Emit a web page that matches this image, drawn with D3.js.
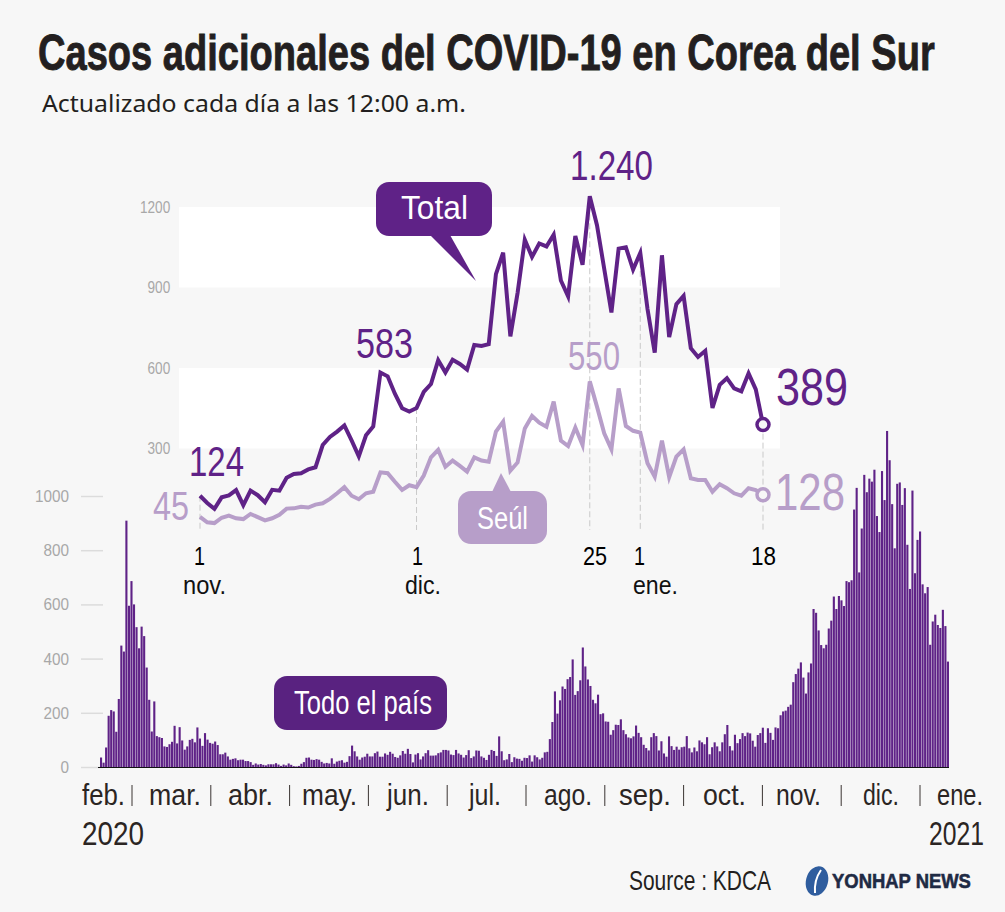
<!DOCTYPE html>
<html>
<head>
<meta charset="utf-8">
<script src="https://cdn.jsdelivr.net/npm/d3@7"></script>
<style>
html, body { margin: 0; padding: 0; background: #f7f7f7; }
svg { display: block; }
text { font-family: "Liberation Sans", Arial, sans-serif; }
</style>
</head>
<body>
<script>
// Nov 1 - Jan 18, nationwide
var totalCases = [124, 97, 75, 118, 125, 145, 89, 143, 126, 100, 146, 143, 191, 205, 208, 222, 230, 313, 343, 363,
    386, 330, 271, 349, 382, 583, 569, 504, 450, 438,
    451, 511, 540, 629, 583, 631, 615, 594, 686, 682, 689, 950, 1030, 718, 880, 1078, 1014, 1064, 1053, 1097,
    926, 867, 1092, 985, 1240, 1132, 970, 807, 1045, 1050, 967,
    1029, 820, 657, 1020, 715, 838, 869, 674, 641, 664, 451, 537, 562, 524, 513, 580, 520, 389];

// Nov 1 - Jan 18, Seoul
var seoulCases = [45, 25, 22, 42, 50, 40, 37, 56, 44, 32, 40, 53, 76, 77, 83, 80, 91, 96, 112, 133,
    156, 124, 111, 133, 139, 211, 208, 176, 146, 163,
    156, 199, 267, 295, 232, 255, 235, 214, 267, 255, 251, 363, 400, 217, 248, 375, 421, 396, 381, 475,
    329, 309, 378, 313, 550, 456, 357, 297, 524, 384, 366,
    359, 245, 195, 329, 193, 270, 297, 189, 183, 183, 139, 167, 152, 133, 124, 152, 145, 128];

// Feb 19 - Oct 31
var earlierCases = [35, 16, 72, 189, 210, 205, 130, 251, 448, 426,
    909, 595, 686, 600, 516, 438, 518, 483, 367, 248, 131, 242, 114, 110, 107, 76, 74, 84, 93, 152,
    87, 147, 98, 64, 76, 100, 104, 91, 146, 105, 78, 125,
    101, 89, 86, 94, 81, 47, 47, 53, 39, 27, 30, 32, 25, 27, 27, 22, 22, 18, 8, 13, 9, 11, 8, 6, 10, 10, 10, 14, 9, 4,
    9, 6, 13, 8, 3, 2, 4, 12, 18, 34, 35, 27, 26, 29, 27, 19, 13, 15, 13, 32, 12, 20, 23, 25, 16, 19, 40, 79, 58, 39, 27,
    35, 38, 49, 39, 39, 51, 57, 38, 38, 50, 45, 56, 49, 37, 34, 43, 59, 49, 67, 48, 17, 46, 51, 28, 39, 51, 62, 42, 42, 43,
    51, 54, 63, 63, 61, 46, 44, 63, 50, 45, 35, 44, 62, 33, 39, 61, 60, 39, 34, 26, 45, 63, 59, 41, 113, 58, 25, 28, 48, 18, 36,
    31, 30, 23, 34, 33, 43, 20, 43, 36, 28, 34, 54, 56, 103, 166, 279, 197, 246, 297, 288, 324, 332, 397, 266, 280, 320, 441, 371, 323, 299, 248,
    235, 267, 195, 198, 168, 167, 119, 136, 156, 155, 176, 136, 121, 109, 106, 113, 153, 126, 110, 82, 70, 61, 110, 125, 114, 61, 95, 50, 38, 113,
    77, 63, 75, 64, 73, 75, 114, 69, 54, 72, 58, 98, 91, 84, 110, 47, 73, 91, 76, 58, 91, 121, 155, 77, 61, 119, 88, 103, 125, 114, 127];

var monthLabels = ["feb.", "mar.", "abr.", "may.", "jun.", "jul.", "ago.", "sep.", "oct.", "nov.", "dic.", "ene."];
var topTicks = [300, 600, 900, 1200];
var barTicks = [0, 200, 400, 600, 800, 1000];
var guideDays = [0, 30, 54, 61, 78];

var purple = "#5f2287", lilac = "#b79ec9", bg = "#f7f7f7";
var dailyCases = earlierCases.concat(totalCases);

var svg = d3.select("body").append("svg").attr("width", 1005).attr("height", 912);
svg.append("rect").attr("width", 1005).attr("height", 912).attr("fill", bg);

// fit text between two x positions by scaling it, the original type is condensed
function label(str, x1, x2, y, size, color, weight, family) {
    var t = svg.append("text")
        .attr("font-size", size).attr("font-weight", weight || "normal")
        .attr("fill", color).text(str);
    if (family) t.style("font-family", family);
    var k = (x2 - x1) / t.node().getComputedTextLength();
    t.attr("transform", "translate(" + x1 + "," + y + ") scale(" + k + ",1)");
    return t;
}

label("Casos adicionales del COVID-19 en Corea del Sur", 38, 935, 70, 50, "#231f20", "bold")
    .attr("stroke", "#231f20").attr("stroke-width", 0.9);
label("Actualizado cada día a las 12:00 a.m.", 42, 466, 112, 24, "#231f20", "normal", "'Noto Sans'");

// top chart
var xDay = d3.scaleLinear().domain([0, 78]).range([200, 763]);
var yTop = d3.scaleLinear().domain([0, 1200]).range([529, 207]);

[[900, 1200], [300, 600]].forEach(function(b) {
    svg.append("rect").attr("x", 179).attr("width", 601)
        .attr("y", yTop(b[1])).attr("height", yTop(b[0]) - yTop(b[1]))
        .attr("fill", "#fff");
});

var topAxis = svg.append("g").attr("transform", "translate(179,0)")
    .call(d3.axisLeft(yTop).tickValues(topTicks).tickSize(0).tickFormat(d3.format("d")));
topAxis.select(".domain").remove();
topAxis.selectAll("text").attr("font-size", 17).attr("fill", "#a8a8a8")
    .attr("transform", "scale(0.8,1)").attr("x", -11);

svg.selectAll(".guide").data(guideDays).enter().append("line")
    .attr("x1", xDay).attr("x2", xDay)
    .attr("y1", function(d) { return yTop(totalCases[d]); })
    .attr("y2", 530)
    .attr("stroke", "#c9c9c9").attr("stroke-dasharray", "6,3");

var line = d3.line().x(function(d, i) { return xDay(i); }).y(function(d) { return yTop(d); });

svg.append("path").datum(seoulCases).attr("d", line)
    .attr("fill", "none").attr("stroke", lilac).attr("stroke-width", 4);
svg.append("path").datum(totalCases).attr("d", line)
    .attr("fill", "none").attr("stroke", purple).attr("stroke-width", 4);

svg.append("circle").attr("cx", xDay(78)).attr("cy", yTop(seoulCases[78])).attr("r", 6)
    .attr("fill", bg).attr("stroke", lilac).attr("stroke-width", 3.5);
svg.append("circle").attr("cx", xDay(78)).attr("cy", yTop(totalCases[78])).attr("r", 6)
    .attr("fill", bg).attr("stroke", purple).attr("stroke-width", 3.5);

// value labels
label("124", 189, 244, 476, 42, purple);
label("583", 356, 413, 358, 42, purple);
label("1.240", 570, 653, 180, 42, purple);
label("550", 568, 620, 370, 40, lilac);
label("389", 776, 848, 405, 52, purple);
label("45", 153, 189, 520, 40, lilac);
label("128", 775, 845, 510, 52, lilac);

// date labels under the lines
label("1", 194, 205, 565, 26, "#000");
label("nov.", 183, 226, 594, 26, "#111");
label("1", 412, 423, 565, 26, "#000");
label("dic.", 405, 441, 594, 26, "#111");
label("25", 583, 607, 565, 26, "#000");
label("1", 634, 645, 565, 26, "#000");
label("ene.", 633, 678, 594, 26, "#111");
label("18", 751, 776, 565, 26, "#000");

// callouts
function callout(x, y, w, h, tail, color) {
    svg.append("rect").attr("x", x).attr("y", y).attr("width", w).attr("height", h).attr("rx", 13).attr("fill", color);
    if (tail) svg.append("path").attr("d", d3.line()(tail)).attr("fill", color);
}
callout(376, 182, 116, 54, [[430, 235], [450, 235], [476, 281]], purple);
label("Total", 401, 468, 219, 33, "#fff");
callout(458, 491, 89, 53, [[492, 492], [511, 492], [501, 473]], lilac);
label("Seúl", 477, 528, 529, 31, "#fff");
callout(274, 676, 173, 54, null, "#592280");
label("Todo el país", 294, 432, 714, 33, "#fff");

// bottom chart
var xBar = d3.scaleBand().domain(d3.range(dailyCases.length)).range([100, 949]).paddingInner(0.17);
var yBar = d3.scaleLinear().domain([0, 1000]).range([767, 496]);

var barAxis = svg.append("g").attr("transform", "translate(103,0)")
    .call(d3.axisLeft(yBar).tickValues(barTicks).tickSize(22).tickPadding(12).tickFormat(d3.format("d")));
barAxis.select(".domain").remove();
barAxis.selectAll("line").attr("stroke", "#dcdcdc").attr("stroke-width", 1.5);
barAxis.selectAll("text").attr("font-size", 17).attr("fill", "#a8a8a8")
    .attr("transform", "scale(0.9,1)").attr("x", -34 / 0.9);

svg.selectAll(".bar").data(dailyCases).enter().append("rect")
    .attr("class", "bar")
    .attr("x", function(d, i) { return xBar(i); })
    .attr("width", xBar.bandwidth())
    .attr("y", function(d) { return yBar(d); })
    .attr("height", function(d) { return yBar(0) - yBar(d); })
    .attr("fill", purple);

svg.append("line").attr("x1", 98).attr("x2", 949).attr("y1", 767.5).attr("y2", 767.5)
    .attr("stroke", "#111").attr("stroke-width", 1.2);

// month row
var monthLeft = [82, 149, 228, 302, 387, 469, 544, 619, 703, 776, 863, 937];
var monthRight = [125, 201, 273, 357, 429, 501, 592, 671, 746, 821, 899, 983];
monthLabels.forEach(function(m, i) {
    label(m, monthLeft[i], monthRight[i], 805, 30, "#2b2523");
});
var monthTick = d3.scaleLinear().domain([0, 10]).range([132, 920]);
svg.selectAll(".mtick").data(d3.range(11)).enter().append("line")
    .attr("x1", monthTick).attr("x2", monthTick)
    .attr("y1", 785).attr("y2", 806)
    .attr("stroke", "#3a3432").attr("stroke-width", 1);

label("2020", 82, 144, 845, 33, "#2b2523");
label("2021", 929, 984, 845, 33, "#2b2523");

label("Source : KDCA", 629, 771, 890, 27, "#231f20");

// logo
svg.append("ellipse").attr("cx", 817).attr("cy", 881).attr("rx", 11).attr("ry", 15)
    .attr("transform", "rotate(15,817,881)").attr("fill", "#2f5d9e");
svg.append("path").attr("d", "M821 870 Q814 880 815 893").attr("fill", "none").attr("stroke", "#fff").attr("stroke-width", 2);
label("YONHAP NEWS", 832, 971, 888, 21, "#1f2a44", "bold").attr("stroke", "#1f2a44").attr("stroke-width", 0.6);
</script>
</body>
</html>
